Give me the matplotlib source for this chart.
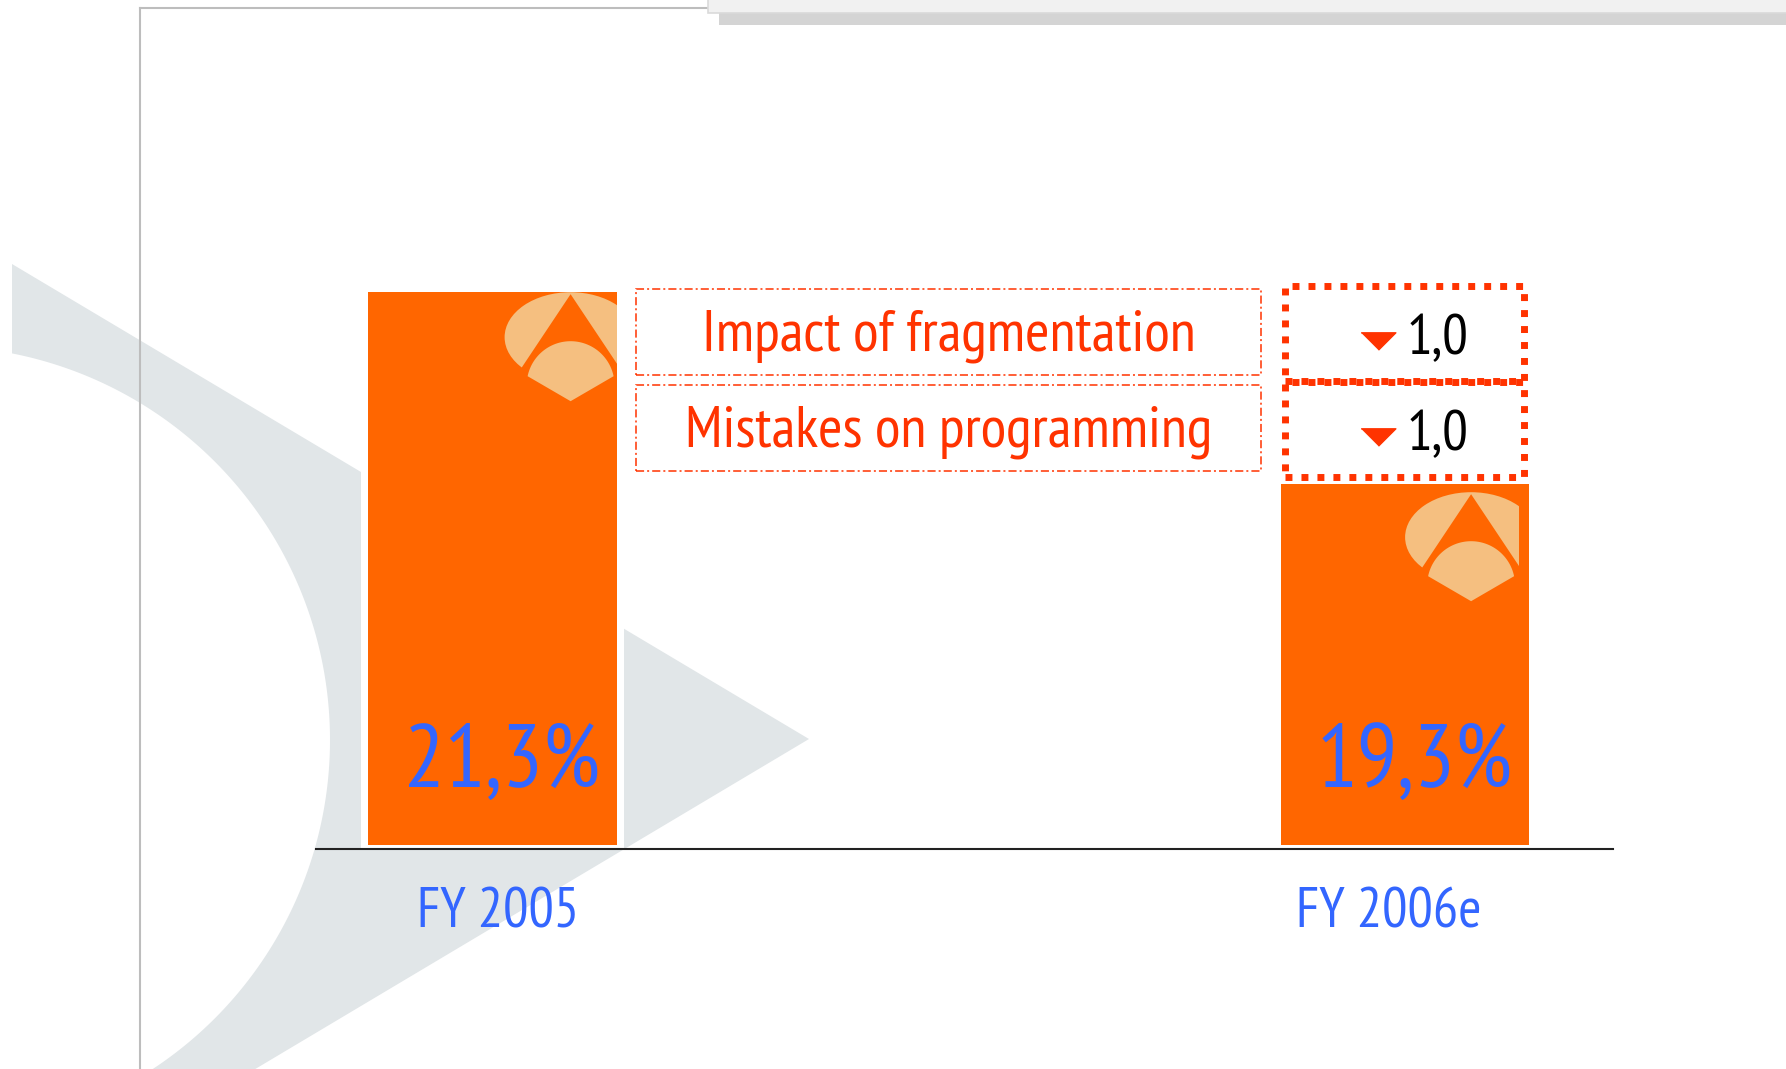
import numpy as np
import matplotlib.pyplot as plt
from matplotlib.patches import Rectangle, Polygon, Ellipse
from matplotlib import transforms

# ------------------------------------------
# DATA
# ------------------------------------------
periods = ['FY 2005', 'FY 2006e']
share = [21.3, 19.3]
share_labels = ['21,3%', '19,3%']
drivers = ['Impact of fragmentation', 'Mistakes on programming']
driver_impact = [1.0, 1.0]
impact_labels = ['1,0', '1,0']

# ------------------------------------------
# STYLE
# ------------------------------------------
ORANGE = '#FF6600'
RED = '#FF3300'
BLUE = '#3366FF'
PEACH = '#F5BF80'
SHAPE_GREY = '#E1E6E8'
FONT = ['PT Sans Narrow', 'DejaVu Sans']

W, H = 1786, 1069
fig = plt.figure(figsize=(W / 100, H / 100), dpi=100)

# background layer, pixel coordinates
bg = fig.add_axes([0, 0, 1, 1])
bg.set_xlim(0, W)
bg.set_ylim(H, 0)
bg.axis('off')

# grey "play" shape with a round cut on the left
cx, cy, r = -64, 740, 394
t0 = np.arccos((12 - cx) / r)
th = np.linspace(t0, -t0, 200)
arc = np.column_stack([cx + r * np.cos(th), cy + r * np.sin(th)])
shape = np.vstack([[(12, 264), (809, 739), (12, 1214)], arc])
bg.add_patch(Polygon(shape, closed=True, fc=SHAPE_GREY, ec='none', zorder=1))

# slide frame and header box
bg.plot([140, 140], [7.5, H], color='#BDBDBD', lw=1.5, zorder=2)
bg.plot([140, 708], [7.5, 7.5], color='#BDBDBD', lw=1.5, zorder=2)
bg.add_patch(Rectangle((719, 12), W - 719, 13, fc='#D4D4D4', ec='none', zorder=2))
bg.add_patch(Rectangle((708, -5), W - 700, 17.5, fc='#F1F1F1', ec='#DADADA', lw=1.2, zorder=3))

# ------------------------------------------
# MAIN CHART
# ------------------------------------------
ax = fig.add_axes([316 / W, (H - 849) / H, (1613 - 316) / W, (849 - 200) / H])
ax.set_xlim((316 - 492.5) / 912.5, (1613 - 492.5) / 912.5)
ax.set_ylim(15.5, 15.5 + 649 / 96)
ax.patch.set_visible(False)
for s in ['top', 'left', 'right']:
    ax.spines[s].set_visible(False)
ax.spines['bottom'].set_color('#222222')
ax.spines['bottom'].set_linewidth(1.5)
ax.set_xticks([])
ax.set_yticks([])

x = np.arange(len(periods))
base = 15.54
bar_w = 0.272
heights = np.array(share) - base

# white halo behind bars, then bars
ax.bar(x, heights + 0.11, bottom=base - 0.04, width=bar_w + 14 / 912.5,
       color='white', zorder=1, clip_on=False)
ax.bar(x, heights, bottom=base, width=bar_w, color=ORANGE, zorder=2)


def draw_logo(xr, top, off, clip):
    # logo drawn in inches around its apex, anchored to bar top-right
    tr = fig.dpi_scale_trans + transforms.ScaledTranslation(xr, top, ax.transData)
    ox, oy = off
    parts = []
    parts.append(Ellipse((ox, oy - 0.41), 1.32, 0.90, fc=PEACH, ec='none'))
    parts.append(Polygon([(ox, oy + 0.02), (ox - 0.78, oy - 1.15), (ox + 0.78, oy - 1.15)],
                         fc=ORANGE, ec='none'))
    a = np.radians(np.linspace(168.3, 11.7, 60))
    piece = np.column_stack([ox + 0.439 * np.cos(a), oy - 0.889 + 0.439 * np.sin(a)])
    piece = np.vstack([piece, [(ox, oy - 1.05)]])
    parts.append(Polygon(piece, fc=PEACH, ec='none'))
    for p in parts:
        p.set_transform(tr)
        p.set_zorder(3)
        ax.add_patch(p)
        p.set_clip_path(clip)


logo_offsets = [(-0.46, -0.04), (-0.58, -0.12)]
logo_margin = [0.0, 0.011]
for i, xi in enumerate(x):
    clip = Rectangle((xi - bar_w / 2, base), bar_w - logo_margin[i], heights[i],
                     transform=ax.transData)
    draw_logo(xi + bar_w / 2, share[i], logo_offsets[i], clip)
    ax.text(xi + 0.01, 16.15, share_labels[i], ha='center', va='baseline',
            color=BLUE, fontsize=65, family=FONT, zorder=4)

label_dx = [0.006, -0.018]
for i, xi in enumerate(x):
    ax.text(xi + label_dx[i], 14.68, periods[i], ha='center', va='baseline',
            color=BLUE, fontsize=40.5, family=FONT, clip_on=False)

# waterfall steps between the two bars
levels = share[0] - np.concatenate([[0], np.cumsum(driver_impact)])
tri = [(-1, 0.5), (1, 0.5), (0, -0.5)]
for i, name in enumerate(drivers):
    hi, lo = levels[i], levels[i + 1]
    ax.add_patch(Rectangle((0.157, lo + 0.14), 0.685, (hi + 0.03) - (lo + 0.14),
                           fill=False, ec=RED, lw=1.1, ls=(0, (5.3, 2, 1.3, 2)), zorder=3))
    ax.text(0.4997, lo + 0.39, name, ha='center', va='baseline', color=RED,
            fontsize=42.5, family=FONT, zorder=4)
    ax.add_patch(Rectangle((0.8685, lo + 0.075), 0.262, (hi + 0.065) - (lo + 0.075),
                           fill=False, ec=RED, lw=5, ls=(0, (1, 1.3)), zorder=3))
    ax.plot(0.970, lo + 0.49, marker=tri, ms=25, color=RED, ls='none', zorder=4)
    ax.text(1.002, lo + 0.35, impact_labels[i], ha='left', va='baseline',
            color='black', fontsize=41, family=FONT, zorder=4)

fig.savefig('out.png', dpi=100)
